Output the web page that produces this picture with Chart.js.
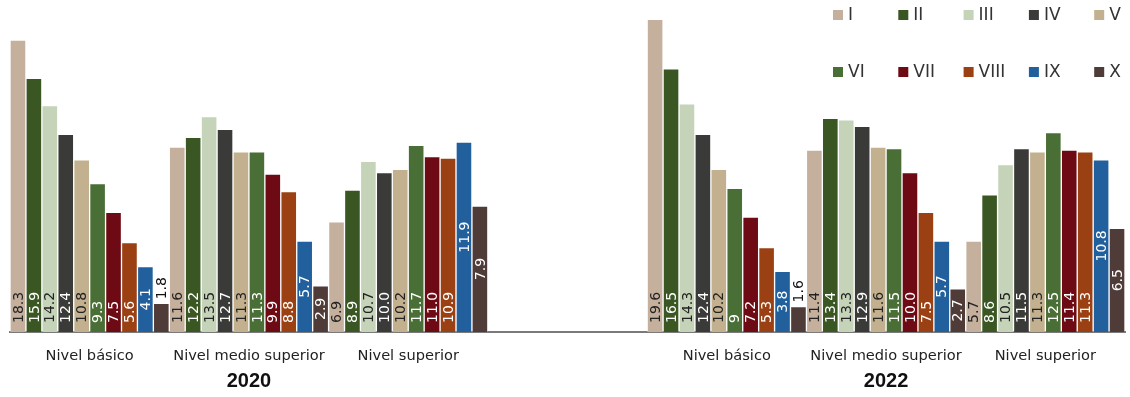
<!DOCTYPE html>
<html lang="es">

<head>
    <meta charset="UTF-8">
    <title>Niveles por decil</title>
    <script src="https://cdn.jsdelivr.net/npm/chart.js"></script>
    <style>
        body {
            margin: 0;
            padding: 0;
            background: #ffffff;
        }

        #wrap {
            position: relative;
            width: 1130px;
            height: 397px;
        }
    </style>
</head>

<body>
    <div id="wrap">
        <canvas id="nivelesChart"></canvas>
    </div>

    <script>
        // categories (the empty slot separates 2020 from 2022)
        const levels = ['Nivel básico', 'Nivel medio superior', 'Nivel superior', '',
            'Nivel básico', 'Nivel medio superior', 'Nivel superior'];
        const years = ['', '2020', '', '', '', '2022', ''];
        const deciles = ['I', 'II', 'III', 'IV', 'V', 'VI', 'VII', 'VIII', 'IX', 'X'];

        // values as printed on the bars
        const serieI = ['18.3', '11.6', '6.9', null, '19.6', '11.4', '5.7'];
        const serieII = ['15.9', '12.2', '8.9', null, '16.5', '13.4', '8.6'];
        const serieIII = ['14.2', '13.5', '10.7', null, '14.3', '13.3', '10.5'];
        const serieIV = ['12.4', '12.7', '10.0', null, '12.4', '12.9', '11.5'];
        const serieV = ['10.8', '11.3', '10.2', null, '10.2', '11.6', '11.3'];
        const serieVI = ['9.3', '11.3', '11.7', null, '9', '11.5', '12.5'];
        const serieVII = ['7.5', '9.9', '11.0', null, '7.2', '10.0', '11.4'];
        const serieVIII = ['5.6', '8.8', '10.9', null, '5.3', '7.5', '11.3'];
        const serieIX = ['4.1', '5.7', '11.9', null, '3.8', '5.7', '10.8'];
        const serieX = ['1.8', '2.9', '7.9', null, '1.6', '2.7', '6.5'];

        const series = [serieI, serieII, serieIII, serieIV, serieV, serieVI, serieVII, serieVIII, serieIX, serieX];

        const colors = ['#c5af9d', '#3a5623', '#c5d3b8', '#3a3a38', '#c2b08f',
            '#4a6f36', '#6e0a14', '#9a4012', '#21609c', '#4f3b38'];
        const labelColors = ['#222', '#fff', '#222', '#fff', '#222',
            '#fff', '#fff', '#fff', '#fff', '#fff'];
        const centered = [false, false, false, false, false, false, false, false, true, true];

        const FONT = '"DejaVu Sans", sans-serif';

        // vertical value labels inside each bar
        const barLabels = {
            id: 'barLabels',
            afterDatasetsDraw(chart) {
                const ctx = chart.ctx;
                ctx.save();
                ctx.font = '14px ' + FONT;
                ctx.textBaseline = 'middle';
                chart.data.datasets.forEach((ds, i) => {
                    const meta = chart.getDatasetMeta(i);
                    meta.data.forEach((bar, j) => {
                        const raw = ds.data[j];
                        if (raw === null) return;
                        const v = +raw;
                        let y, align, color = labelColors[i];
                        if (v < 2) {
                            y = bar.y - 4;
                            align = 'left';
                            color = '#111';
                        } else if (centered[i]) {
                            y = (bar.y + bar.base) / 2;
                            align = 'center';
                        } else {
                            y = bar.base - 9;
                            align = 'left';
                        }
                        ctx.save();
                        ctx.translate(bar.x + 1, y);
                        ctx.rotate(-Math.PI / 2);
                        ctx.textAlign = align;
                        ctx.fillStyle = color;
                        ctx.fillText(raw, 0, 0);
                        ctx.restore();
                    });
                });
                ctx.restore();
            }
        };

        // legend in two rows of five, top right
        const gridLegend = {
            id: 'gridLegend',
            afterDraw(chart) {
                const ctx = chart.ctx;
                ctx.save();
                ctx.font = '17px ' + FONT;
                ctx.textBaseline = 'middle';
                ctx.textAlign = 'left';
                chart.data.datasets.forEach((ds, i) => {
                    const x = 833 + (i % 5) * 65.3;
                    const y = 15 + Math.floor(i / 5) * 57;
                    ctx.fillStyle = ds.backgroundColor;
                    ctx.fillRect(x, y - 5, 10, 10);
                    ctx.fillStyle = '#333';
                    ctx.fillText(ds.label, x + 15, y + 1);
                });
                ctx.restore();
            }
        };

        const ctx = document.getElementById('nivelesChart').getContext('2d');
        const chart = new Chart(ctx, {
            type: 'bar',
            data: {
                labels: levels,
                datasets: deciles.map((d, i) => ({
                    label: d,
                    data: series[i],
                    backgroundColor: colors[i],
                    borderColor: 'rgba(255,255,255,0.3)',
                    borderWidth: 1,
                    categoryPercentage: 1,
                    barPercentage: 1
                }))
            },
            options: {
                responsive: true,
                maintainAspectRatio: false,
                animation: false,
                layout: { padding: { top: 13, left: 10, right: 5, bottom: 0 } },
                plugins: {
                    legend: { display: false },
                    tooltip: { enabled: false }
                },
                scales: {
                    x: {
                        grid: { display: false, drawTicks: false },
                        border: { display: true, color: '#7a7a7a', width: 2 },
                        ticks: {
                            color: '#222',
                            font: { family: FONT, size: 14.6 },
                            padding: 15,
                            autoSkip: false,
                            maxRotation: 0
                        },
                        afterFit(scale) { scale.height = 37; }
                    },
                    x2: {
                        type: 'category',
                        labels: years,
                        position: 'bottom',
                        grid: { display: false, drawTicks: false },
                        border: { display: false },
                        ticks: {
                            color: '#111',
                            font: { family: '"Liberation Sans", Arial, sans-serif', size: 20, weight: 'bold' },
                            padding: 0,
                            autoSkip: false,
                            maxRotation: 0
                        },
                        afterFit(scale) { scale.height = 28; }
                    },
                    y: {
                        display: false,
                        min: 0,
                        max: 20
                    }
                }
            },
            plugins: [barLabels, gridLegend]
        });
    </script>
</body>

</html>
